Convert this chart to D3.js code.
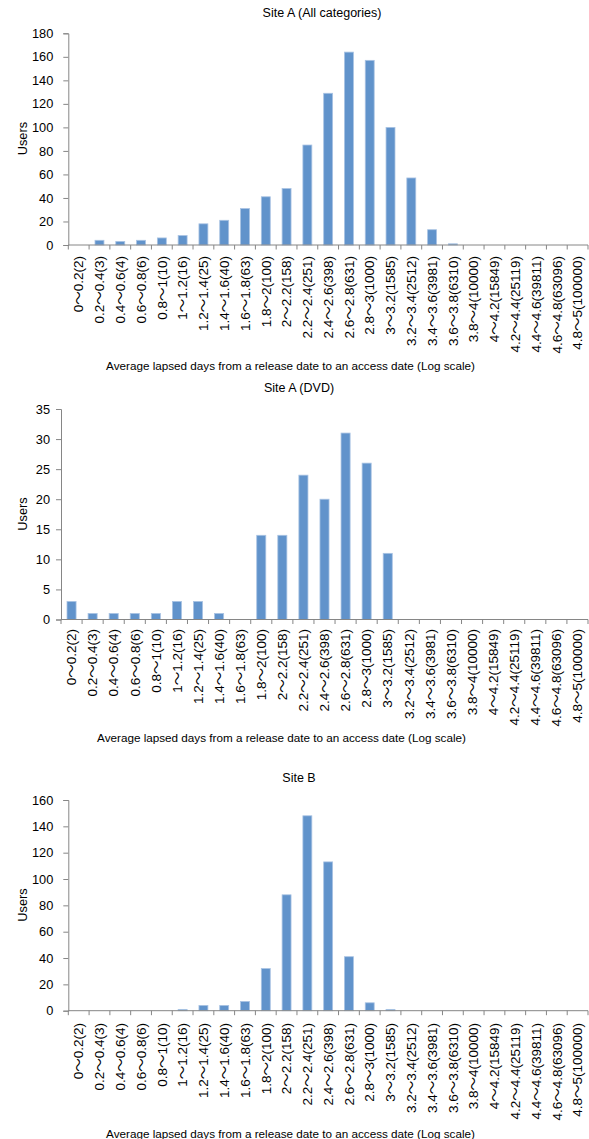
<!DOCTYPE html>
<html>
<head>
<meta charset="utf-8">
<script src="https://cdn.jsdelivr.net/npm/d3@7"></script>
<style>
  body { margin: 0; background: #fff; }
  svg text { font-family: "Liberation Sans", "Noto Sans CJK JP", sans-serif; fill: #000; }
</style>
</head>
<body>
<div id="chart-area"></div>
<script>
// Categories (log10 range ~ days)
var categories = ['0～0.2(2)', '0.2～0.4(3)', '0.4～0.6(4)', '0.6～0.8(6)', '0.8～1(10)', '1～1.2(16)',
  '1.2～1.4(25)', '1.4～1.6(40)', '1.6～1.8(63)', '1.8～2(100)', '2～2.2(158)', '2.2～2.4(251)',
  '2.4～2.6(398)', '2.6～2.8(631)', '2.8～3(1000)', '3～3.2(1585)', '3.2～3.4(2512)', '3.4～3.6(3981)',
  '3.6～3.8(6310)', '3.8～4(10000)', '4～4.2(15849)', '4.2～4.4(25119)', '4.4～4.6(39811)',
  '4.6～4.8(63096)', '4.8～5(100000)'];

// Users per bin
var siteAAll = [0, 4, 3, 4, 6, 8, 18, 21, 31, 41, 48, 85, 129, 164, 157, 100, 57, 13, 1, 0, 0, 0, 0, 0, 0];
var siteADvd = [3, 1, 1, 1, 1, 3, 3, 1, 0, 14, 14, 24, 20, 31, 26, 11, 0, 0, 0, 0, 0, 0, 0, 0, 0];
var siteB = [0, 0, 0, 0, 0, 1, 4, 4, 7, 32, 88, 148, 113, 41, 6, 1, 0, 0, 0, 0, 0, 0, 0, 0, 0];

// Y axis tick values
var ticksAAll = [0, 20, 40, 60, 80, 100, 120, 140, 160, 180];
var ticksADvd = [0, 5, 10, 15, 20, 25, 30, 35];
var ticksB = [0, 20, 40, 60, 80, 100, 120, 140, 160];

var xTitle = 'Average lapsed days from a release date to an access date (Log scale)';

var svg = d3.select('#chart-area').append('svg')
  .attr('width', 589)
  .attr('height', 1139);

var charts = [
  { title: 'Site A (All categories)', values: siteAAll, ticks: ticksAAll,
    left: 68.3, top: 33.3, bottom: 245, titleX: 322, titleY: 17, usersY: 138.6,
    labelTop: 256, axisTitleX: 290.5, axisTitleY: 370, pad: 10 },
  { title: 'Site A (DVD)', values: siteADvd, ticks: ticksADvd,
    left: 61, top: 409, bottom: 619.5, titleX: 299, titleY: 392, usersY: 514,
    labelTop: 629, axisTitleX: 281.5, axisTitleY: 742, pad: 6 },
  { title: 'Site B', values: siteB, ticks: ticksB,
    left: 68.3, top: 800, bottom: 1010.7, titleX: 299, titleY: 782, usersY: 905,
    labelTop: 1023, axisTitleX: 290.5, axisTitleY: 1138, pad: 10 }
];

var right = 588;
var axisColor = '#868686';

charts.forEach(function (c) {
  var x = d3.scaleBand()
    .domain(categories)
    .range([c.left, right])
    .paddingInner(0.57)
    .paddingOuter(0.285);

  var y = d3.scaleLinear()
    .domain([0, d3.max(c.ticks)])
    .range([c.bottom, c.top]);

  var g = svg.append('g');

  // Bars
  g.selectAll('rect.bar')
    .data(c.values)
    .enter()
    .append('rect')
    .attr('class', 'bar')
    .attr('x', function (d, i) { return x(categories[i]); })
    .attr('y', function (d) { return y(d); })
    .attr('width', x.bandwidth())
    .attr('height', function (d) { return c.bottom - y(d); })
    .attr('fill', '#6193cb')
    .attr('stroke', function (d) { return d > 0 ? '#a9c3e3' : 'none'; })
    .attr('stroke-width', 0.8);

  // Y axis
  var yAxis = g.append('g')
    .attr('transform', 'translate(' + c.left + ',0)')
    .call(d3.axisLeft(y).tickValues(c.ticks).tickSize(5).tickPadding(c.pad).tickFormat(d3.format('d')));
  yAxis.select('.domain').attr('stroke', axisColor);
  yAxis.selectAll('.tick line').attr('stroke', axisColor);
  yAxis.selectAll('.tick text').style('font-size', '12.8px').attr('fill', '#000');

  // X axis line and boundary ticks
  var step = x.step();
  var bounds = categories.map(function (d) { return x(d) - (step - x.bandwidth()) / 2; });
  bounds.push(right);
  g.append('line')
    .attr('x1', c.left).attr('x2', right)
    .attr('y1', c.bottom).attr('y2', c.bottom)
    .attr('stroke', axisColor);
  g.selectAll('line.xtick')
    .data(bounds)
    .enter()
    .append('line')
    .attr('class', 'xtick')
    .attr('x1', function (d) { return d; })
    .attr('x2', function (d) { return d; })
    .attr('y1', c.bottom)
    .attr('y2', c.bottom + 4.5)
    .attr('stroke', axisColor);

  // X labels (rotated)
  g.selectAll('text.xlab')
    .data(categories)
    .enter()
    .append('text')
    .attr('class', 'xlab')
    .attr('transform', function (d) {
      return 'translate(' + (x(d) + x.bandwidth() / 2) + ',' + c.labelTop + ') rotate(-90)';
    })
    .attr('dy', '0.35em')
    .style('text-anchor', 'end')
    .style('font-size', '13.5px')
    .text(function (d) { return d; });

  // Title
  g.append('text')
    .attr('x', c.titleX)
    .attr('y', c.titleY)
    .style('text-anchor', 'middle')
    .style('font-size', '12.5px')
    .text(c.title);

  // Y axis title
  g.append('text')
    .attr('transform', 'translate(22.7,' + c.usersY + ') rotate(-90)')
    .attr('dy', '0.35em')
    .style('text-anchor', 'middle')
    .style('font-size', '12.8px')
    .text('Users');

  // X axis title
  g.append('text')
    .attr('x', c.axisTitleX)
    .attr('y', c.axisTitleY)
    .style('text-anchor', 'middle')
    .style('font-size', '11.7px')
    .text(xTitle);
});
</script>
</body>
</html>
